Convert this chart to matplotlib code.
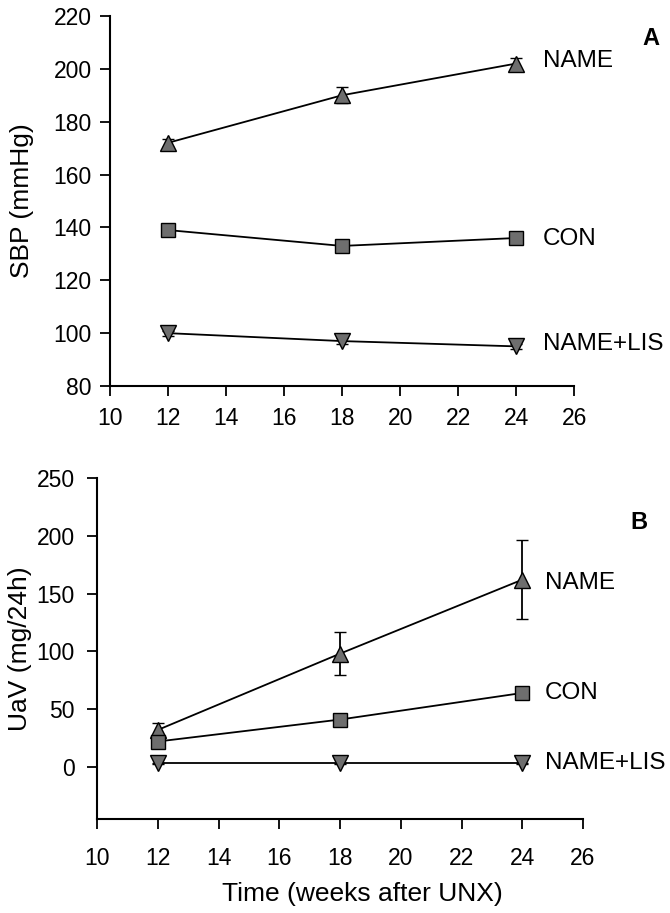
import matplotlib
matplotlib.use("Agg")
import matplotlib.pyplot as plt

plt.rcParams['font.family'] = ['Liberation Sans', 'DejaVu Sans']

weeks = [12, 18, 24]
groups = ["NAME", "CON", "NAME+LIS"]

# systolic blood pressure (mmHg), mean and SEM
sbp_mean = {"NAME": [172, 190, 202], "CON": [139, 133, 136], "NAME+LIS": [100, 97, 95]}
sbp_err = {"NAME": [1.5, 3, 2], "CON": [1, 1, 1], "NAME+LIS": [1, 1, 1]}

# urinary albumin excretion (mg/24h), mean and SEM
uav_mean = {"NAME": [32, 98, 162], "CON": [22, 41, 64], "NAME+LIS": [3, 3, 3]}
uav_err = {"NAME": [6, 18.5, 34], "CON": [2, 3, 5], "NAME+LIS": [0.5, 0.5, 0.5]}

markers = {"NAME": "^", "CON": "s", "NAME+LIS": "v"}
msizes = {"NAME": 12, "CON": 10, "NAME+LIS": 12}

fig = plt.figure(figsize=(6.7, 9.13), dpi=100)
ax1 = fig.add_axes([0.164, 0.5772, 0.693, 0.4053])
ax2 = fig.add_axes([0.1448, 0.1030, 0.7254, 0.3735])


def draw_panel(ax, means, errs, label_x, label_y, xpad):
    for g in groups:
        ax.errorbar(weeks, means[g], yerr=errs[g], color="black", lw=1.3,
                    marker=markers[g], ms=msizes[g], mfc="#6e6e6e", mec="black",
                    mew=1.0, capsize=4.5, elinewidth=1.3, capthick=1.3)
        ax.text(label_x, label_y[g], g, fontsize=17.5, va="center", ha="left")
    for side in ["top", "right"]:
        ax.spines[side].set_visible(False)
    ax.spines["left"].set_linewidth(1.5)
    ax.spines["bottom"].set_linewidth(1.5)
    ax.set_xlim(10, 26)
    ax.set_xticks(range(10, 27, 2))
    ax.tick_params(labelsize=16.5, length=7, width=1.3, direction="out")
    ax.tick_params(axis="x", pad=xpad)
    ax.tick_params(axis="y", pad=6)


draw_panel(ax1, sbp_mean, sbp_err, 24.93, {"NAME": 203, "CON": 135.6, "NAME+LIS": 96}, 8)
ax1.set_ylim(80, 220)
ax1.set_yticks(range(80, 221, 20))
ax1.set_ylabel("SBP (mmHg)", fontsize=19)
ax1.yaxis.set_label_coords(-0.164, 0.5)
ax1.text(1.166, 0.94, "A", transform=ax1.transAxes, fontsize=17,
         fontweight="bold", ha="center", va="center")

draw_panel(ax2, uav_mean, uav_err, 24.75, {"NAME": 159, "CON": 64, "NAME+LIS": 3}, 13)
ax2.set_ylim(-45, 250)
ax2.set_yticks(range(0, 251, 50))
ax2.tick_params(axis="y", pad=9)
ax2.set_ylabel("UaV (mg/24h)", fontsize=19)
ax2.yaxis.set_label_coords(-0.134, 0.5)
ax2.set_xlabel("Time (weeks after UNX)", fontsize=19)
ax2.xaxis.set_label_coords(0.545, -0.185)
ax2.text(1.115, 0.868, "B", transform=ax2.transAxes, fontsize=17,
         fontweight="bold", ha="center", va="center")

fig.savefig("out.png", dpi=100)
